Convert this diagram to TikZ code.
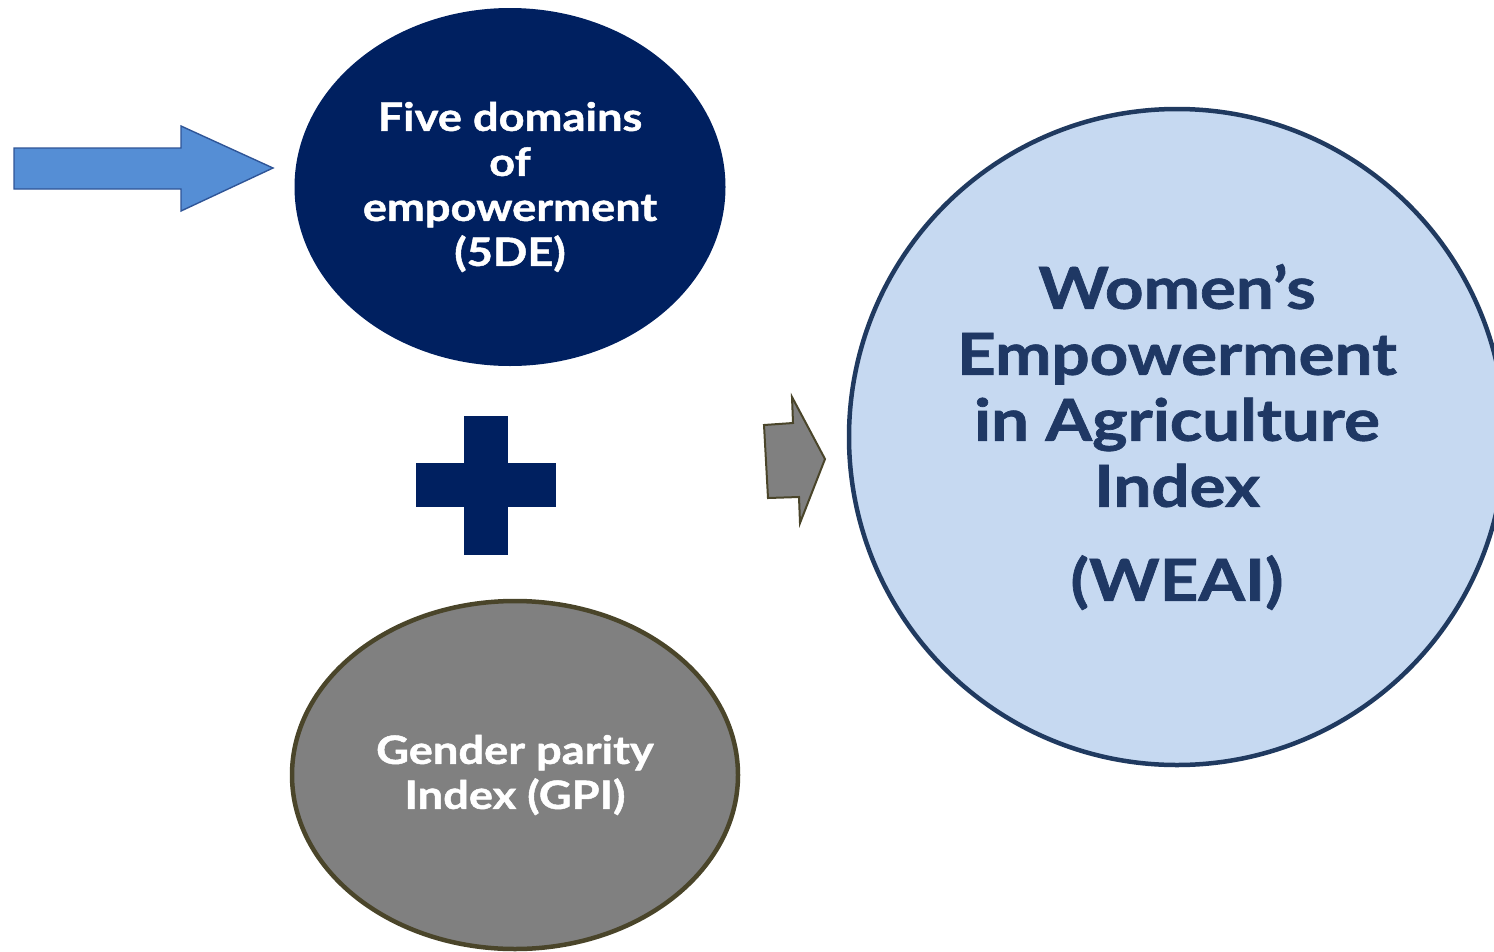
\documentclass[tikz,border=0pt]{standalone}
\usepackage{fontspec}
\setmainfont{Lato}[BoldFeatures={FakeStretch=1.16,FakeBold=1.2}]
\usetikzlibrary{shapes.geometric}
\definecolor{navy}{HTML}{002060}
\definecolor{weaitext}{HTML}{1F3864}
\definecolor{weaifill}{HTML}{C6D9F1}
\definecolor{weaiedge}{HTML}{203A60}
\definecolor{gpifill}{HTML}{808080}
\definecolor{gpiedge}{HTML}{4A452A}
\definecolor{arrowblue}{HTML}{558ED5}
\definecolor{arrowedge}{HTML}{2F5597}
\tikzset{
  fdebox/.style={ellipse, fill=navy, text=white, align=center, inner sep=0pt,
    font=\fontsize{39}{45}\selectfont\bfseries},
  gpibox/.style={ellipse, fill=gpifill, draw=gpiedge, line width=4.5pt, text=white, align=center, inner sep=0pt,
    font=\fontsize{39}{45}\selectfont\bfseries},
  weaibox/.style={circle, fill=weaifill, draw=weaiedge, line width=4.5pt, text=weaitext, align=center, inner sep=0pt,
    font=\fontsize{58}{66}\selectfont\bfseries},
  bluearrow/.style={fill=arrowblue, draw=arrowedge, line width=1.4pt, line join=miter},
  grayarrow/.style={fill=gpifill, draw=gpiedge, line width=2pt, line join=miter},
}
\begin{document}
\begin{tikzpicture}[x=1pt,y=-1pt]
\useasboundingbox (0,0) rectangle (1494,951);
\clip (0,0) rectangle (1494,951);
% blue input arrow
\draw[bluearrow] (14,148) -- (181,148) -- (181,126) -- (273,168) -- (181,211) -- (181,189) -- (14,189) -- cycle;
% five domains
\node[fdebox, minimum width=431pt, minimum height=358pt] (fde) at (510,187)
  {Five domains\\of\\empowerment\\(5DE)};
% plus sign
\fill[navy] (464,416) rectangle (508,555);
\fill[navy] (416,463) rectangle (556,507);
% GPI
\node[gpibox, minimum width=446pt, minimum height=348pt] (gpinode) at (515,775)
  {Gender parity\\Index (GPI)};
% gray arrow
\draw[grayarrow] (764,425) -- (793,423) -- (792,397) -- (825,459) -- (800,523) -- (799,497) -- (768,498) -- cycle;
% WEAI
\node[weaibox, minimum size=656pt] (weainode) at (1177,437)
  {Women’s\\Empowerment\\in Agriculture\\Index\\[28pt](WEAI)};
\end{tikzpicture}
\end{document}
